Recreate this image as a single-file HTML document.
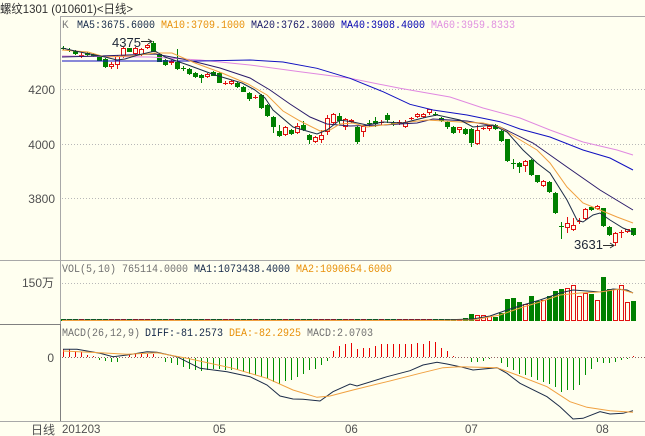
<!DOCTYPE html>
<html><head><meta charset="utf-8">
<style>
html,body{margin:0;padding:0;background:#fffff0;}
svg{display:block;}
.t{font-family:"Liberation Sans","Noto Sans CJK SC",sans-serif;}
.m{font-family:"Liberation Mono","Noto Sans CJK SC",monospace;font-size:11px;}
</style></head>
<body>
<svg id="s" width="645" height="436" viewBox="0 0 645 436" xmlns="http://www.w3.org/2000/svg">
<rect x="0" y="0" width="645" height="436" fill="#fffff0"/>
<g stroke="#a8a8a8" stroke-width="1" fill="none" shape-rendering="crispEdges">
<line x1="60" y1="16.5" x2="645" y2="16.5"/>
<line x1="60.5" y1="17" x2="60.5" y2="421"/>
<line x1="0" y1="260.5" x2="645" y2="260.5"/>
<line x1="0" y1="421.5" x2="645" y2="421.5"/>
</g>
<g stroke="#808080" stroke-width="1" shape-rendering="crispEdges">
<line x1="0" y1="324.5" x2="61" y2="324.5"/>
<line x1="60.5" y1="324" x2="60.5" y2="421"/>
</g>
<g stroke="#b8b8b8" stroke-width="1" stroke-dasharray="1,2" shape-rendering="crispEdges">
<line x1="62" y1="89.5" x2="645" y2="89.5"/>
<line x1="62" y1="144.5" x2="645" y2="144.5"/>
<line x1="62" y1="198.5" x2="645" y2="198.5"/>
<line x1="62" y1="283.5" x2="645" y2="283.5"/>
</g>
<line x1="62" y1="357.5" x2="645" y2="357.5" stroke="#906060" stroke-width="1" stroke-dasharray="1,2" shape-rendering="crispEdges"/>

<text class="t" x="0" y="13" font-size="12" fill="#303030" textLength="133" lengthAdjust="spacingAndGlyphs">螺纹1301 (010601)&lt;日线&gt;</text>

<g class="t" font-size="12" fill="#505050" text-anchor="end">
<text x="55" y="94">4200</text>
<text x="55" y="149">4000</text>
<text x="55" y="203">3800</text>
<text x="54" y="287">150万</text>
<text x="54" y="362">0</text>
<text x="55" y="434">日线</text>
</g>
<g class="t" font-size="11.5" fill="#505050">
<text x="62" y="433">201203</text>
<text x="213" y="433">05</text>
<text x="345" y="433">06</text>
<text x="465" y="433">07</text>
<text x="596" y="433">08</text>
</g>

<g class="m">
<text x="62" y="28" fill="#808080">K</text>
<text x="77" y="28" fill="#142848" textLength="78" lengthAdjust="spacingAndGlyphs">MA5:3675.6000</text>
<text x="161" y="28" fill="#e8900a" textLength="84" lengthAdjust="spacingAndGlyphs">MA10:3709.1000</text>
<text x="251" y="28" fill="#181868" textLength="84" lengthAdjust="spacingAndGlyphs">MA20:3762.3000</text>
<text x="341" y="28" fill="#0000b0" textLength="84" lengthAdjust="spacingAndGlyphs">MA40:3908.4000</text>
<text x="431" y="28" fill="#e090e0" textLength="84" lengthAdjust="spacingAndGlyphs">MA60:3959.8333</text>

<text x="62" y="272" fill="#707070" textLength="126" lengthAdjust="spacingAndGlyphs">VOL(5,10) 765114.0000</text>
<text x="194" y="272" fill="#142848" textLength="96" lengthAdjust="spacingAndGlyphs">MA1:1073438.4000</text>
<text x="296" y="272" fill="#e8900a" textLength="96" lengthAdjust="spacingAndGlyphs">MA2:1090654.6000</text>

<text x="62" y="336" fill="#707070" textLength="78" lengthAdjust="spacingAndGlyphs">MACD(26,12,9)</text>
<text x="145" y="336" fill="#142848" textLength="78" lengthAdjust="spacingAndGlyphs">DIFF:-81.2573</text>
<text x="229" y="336" fill="#e8900a" textLength="72" lengthAdjust="spacingAndGlyphs">DEA:-82.2925</text>
<text x="307" y="336" fill="#707070" textLength="66" lengthAdjust="spacingAndGlyphs">MACD:2.0703</text>
</g>

<g id="cd"></g>
<g id="ln" fill="none" stroke-width="1"></g>

<text class="t" x="112" y="47" font-size="13" fill="#202838">4375</text>
<line x1="141" y1="41.5" x2="152" y2="41.5" stroke="#303030" stroke-width="1"/>
<polyline points="148,39 152,41.5 148,44" fill="none" stroke="#303030" stroke-width="1"/>
<text class="t" x="574" y="249" font-size="13" fill="#202838">3631</text>
<line x1="603" y1="245.5" x2="614" y2="245.5" stroke="#303030" stroke-width="1"/>
<polyline points="610,243 614,245.5 610,248" fill="none" stroke="#303030" stroke-width="1"/>
</svg>

<script>
(function(){
var C=[
['g',48,48,46,50],['g',50,50,48,52],['g',51,54,50,55],['r',55,55,52,58],['g',53,55,52,56],
['g',54,56,53,57],['g',56.7,60.7,55,61],['g',59.3,67.3,58,68],['r',64.3,67.3,62,69],['r',56,65,55,69],
['r',48.3,56,47,58],['g',48.3,51.7,48,52],['r',48.3,54,47,55],['r',49.3,55,48,56],['r',45,48.3,44,49],
['g',42.7,51.7,41,52],['g',54,61.7,53,62],['g',60,65,59,66],['r',61,63.3,60,65],['g',61.7,69.3,49.3,70],
['g',68.3,68.3,66,71],['g',69.3,74.3,68,75],['g',73.3,77.3,72,78],['g',75,78.3,74,82.7],['r',74,76.7,73,78],
['g',72.3,75.7,71,76],['g',73.3,82.7,72,83],['r',82.7,82.7,81,84.5],['r',80.7,84,80,85],['g',83.3,87.3,82,88],
['g',86.7,91.7,86,92],['g',92.7,99,92,100.7],['r',96.7,96.7,95,98.5],['g',95,108.3,94,109],['g',105,116,104,117],
['g',117.3,127.3,116,132.7],['g',130.7,136,125,137],['r',127.3,135,126,136],['g',130,134.3,129,135],['r',126,132.7,123.3,134],
['g',125,130,120.7,131],['g',135,140,134,144],['r',137.3,141.7,136,142.5],['r',135,140,130,143],['r',118.3,131.7,115,135],
['r',114,123.3,113,124],['g',116,120.7,113,124],['r',119.3,127.3,118,130],['r',120,121.5,119,123],['g',127.3,141.7,126,144],
['r',126,131.7,125,136.7],['g',123.3,123.3,120,127],['g',120.7,124,117,127],['r',122.3,122.3,120,125],['g',115,120,113,123],
['g',123.3,123.3,121,126],['r',122.3,122.3,120,125],['r',121.7,126.7,120,127.5],['r',118.3,118.3,116.5,120],['r',114,116.7,113,118],
['r',114,116.7,113,118],['r',109.3,113.3,108.5,114.5],['g',114,114,112,116],['g',118.3,120.7,117,122],['g',121.7,127.3,121,129],
['g',126.7,132.7,126,134],['r',127.3,130,126.5,133.3],['g',129.3,134.3,128,135],['g',129.3,142.7,128,147.3],['r',130,144,125,145],
['r',128.3,128.3,127,130],['r',126,129.3,125,130.5],['g',125,129.3,124,130],['g',130.7,140.7,130,141.5],['g',139.3,161,139,161.5],
['g',163.3,163.3,159.3,169.3],['g',162.7,166.7,161.5,172.7],['r',161,166,160,171.7],['g',160,175,159,176],['g',175,181.7,174.5,182.5],
['r',181,186,180,187],['g',181.7,191.7,181,192.5],['g',192.7,212.7,192,213.5],['g',226,226,221.7,239.3],['r',223.3,228.3,216.7,232.7],
['r',225,230,218.3,231],['r',220.7,220.7,218,224],['r',208.7,219.3,208,220],['g',207.3,210,206,211],['r',206,209.3,205,210],
['g',208.3,226,208,227],['g',226.7,235,226,236],['r',233.3,242.7,232,246],['r',231.7,231.7,229.5,238],['r',229.3,231.7,228.5,233],
['g',228.3,235,227.5,236]];
var V=[318.3,314,315,315,316,317.3,312.7,299,297.7,301.7,304,295.7,301,300,295.7,291,289,288.3,285,295.7,293.3,294.3,300,276.7,289.3,289.3,285,301.7,300.7];
var H=[8,8,6,5,2,1,-2,-3,-4,-4,0,2,3,3,3,3,0,
-4,-4.9,-7.3,-9,-10.7,-11.7,-13,-12.3,-10.7,-10.7,-11.7,-11.7,-12.3,-14,-15.7,-17.3,-19,-20.7,-24,-25.7,-23,-22.3,-19,-15.7,-12.3,-10.7,-7.3,
-3,6,11,12.7,13.7,7.7,9.3,9.3,11,12.7,12.7,12.7,12.7,12.7,13.3,14.3,12.7,16,15,9.3,6,1,0,0,-4,-4,-3,-1,0,-5,-9,-12.3,-15.7,-17.3,-19,-21.7,-24,-25.7,-29,-34,-32.3,-31.7,-27.3,-17.3,-10.7,-4,-5,-5,-4,-2.3,-1,1];
var R='#e01010',G='#008000',BG='#fffff0';
var s='';
function r1(v){return Math.round(v);}
for(var i=0;i<C.length;i++){
 var c=C[i],x=63.5+6*i,col=c[0]=='r'?R:G;
 var top=r1(c[1]),bot=r1(c[2]),hi=r1(c[3]),lo=r1(c[4]);
 if(bot-top<1){
  s+='<line x1="'+x+'" y1="'+hi+'" x2="'+x+'" y2="'+lo+'" stroke="'+col+'"/>';
  s+='<line x1="'+(x-2.5)+'" y1="'+(top+0.5)+'" x2="'+(x+2.5)+'" y2="'+(top+0.5)+'" stroke="'+col+'"/>';
 } else if(c[0]=='g'){
  s+='<line x1="'+x+'" y1="'+hi+'" x2="'+x+'" y2="'+lo+'" stroke="'+col+'"/>';
  s+='<rect x="'+(x-2.5)+'" y="'+top+'" width="5" height="'+(bot-top)+'" fill="'+col+'"/>';
 } else {
  if(hi<top) s+='<line x1="'+x+'" y1="'+hi+'" x2="'+x+'" y2="'+top+'" stroke="'+col+'"/>';
  if(lo>bot) s+='<line x1="'+x+'" y1="'+bot+'" x2="'+x+'" y2="'+lo+'" stroke="'+col+'"/>';
  s+='<rect x="'+(x-2)+'" y="'+(top+0.5)+'" width="4" height="'+Math.max(1,bot-top-1)+'" fill="'+BG+'" stroke="'+col+'"/>';
 }
 var vt=i>=67?r1(V[i-67]):319, vb=321;
 if(c[0]=='g'){
  s+='<rect x="'+(x-2.5)+'" y="'+vt+'" width="5" height="'+(vb-vt)+'" fill="'+G+'"/>';
 } else {
  if(vb-vt>2) s+='<rect x="'+(x-2)+'" y="'+(vt+0.5)+'" width="4" height="'+(vb-vt-1)+'" fill="'+BG+'" stroke="'+R+'"/>';
  else s+='<rect x="'+(x-2.5)+'" y="'+vt+'" width="5" height="'+(vb-vt)+'" fill="'+R+'"/>';
 }
 var h=Math.round(H[i]);
 if(Math.abs(h)>=1){
  var z=357;
  if(h>0) s+='<rect x="'+(x-0.5)+'" y="'+(z-h)+'" width="1" height="'+h+'" fill="#e80000"/>';
  else s+='<rect x="'+(x-0.5)+'" y="'+(z+1)+'" width="1" height="'+(-h)+'" fill="#009000"/>';
 }
}
document.getElementById('cd').innerHTML=s;

function pl(pts,col){return '<polyline points="'+pts+'" stroke="'+col+'"/>';}
var L='';
L+=pl('62,56 150,57 200,60 250,65 300,71.7 350,78.3 400,88.3 450,97 483,108 520,118 550,130 583,142 617,150 633,155','#e088e0');
L+=pl('62,61 200,61 250,60 283,62 317,68.3 350,78.3 383,91.7 410,104.3 433,110 467,115 500,121.7 520,129 550,137 583,150 610,158 633,170','#1010c0');
L+=pl('62,57 100,56 155,54 188,60 220,68 250,78 270,90 290,104 310,117 327,124 350,126 383,125 417,123 433,119 467,121 500,127 533,143 567,167 600,190 633,210','#2a1a6a');
L+=pl('62,50 88,52 105,57 132,56 155,53 172,53 195,63 222,73 248,84 267,95 283,111 300,121 320,131 330,130 340,124 353,123 367,127 383,125 400,123 427,120 460,122 483,123 500,127 517,138 537,150 550,163 567,187 583,203 600,210 617,217 633,223','#f0a040');
L+=pl('62,48 75,51 90,54 105,57 117,60 125,59 138,55 155,51 165,57 188,65 215,75 242,83 255,90 265,98 273,110 293,127 317,134 327,130 340,120 353,122 367,125 383,122 403,123 427,117 437,115 460,120 473,127 493,125 507,132 523,150 537,163 550,173 567,200 577,220 583,222 593,215 600,213 610,220 623,228 633,232','#1c2c48');
L+=pl('62,320 440,320 473,319 490,316 507,310 523,305 540,300 560,293 573,290 587,291 600,292 613,289 627,290 633,293','#1c2c48');
L+=pl('62,320.5 440,320.5 473,320 500,315 520,308 540,302 560,295 580,293 600,292 620,289 633,293','#f0a040');
L+=pl('63,349.3 77,349.3 100,353.3 113,356.7 127,355 147,351.7 157,352.3 177,356.7 200,368.3 227,371.7 250,376.7 267,385 280,396 293,399 303,399.3 320,401 333,391.7 350,384 357,386 387,376.7 410,370.7 423,365 437,362.3 447,364 460,366.7 473,370 497,367.7 507,373.3 520,383.3 547,396.7 560,406.7 573,419 583,418.3 600,411.7 610,414 623,413.3 633,410.7','#1c2c48');
L+=pl('63,351 100,352.7 127,354.3 157,352.7 187,358.3 233,368.3 267,378.3 293,390 317,397.3 330,396 353,390 387,381.7 420,373.3 443,367.7 460,366.7 497,367.7 517,375 547,386.7 570,401.7 587,407.3 610,410.7 633,412.3','#f0a040');
document.getElementById('ln').innerHTML=L;
})();
</script>
</body></html>
